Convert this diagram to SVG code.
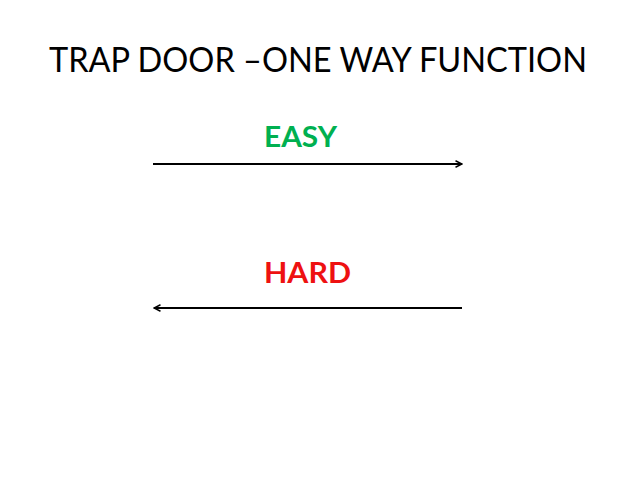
<svg xmlns="http://www.w3.org/2000/svg" width="638" height="479" viewBox="0 0 638 479">
<style>
.title{font-family:Lato,"Open Sans","Liberation Sans",sans-serif;font-size:34px;fill:#000}
.lbl{font-family:Lato,"Open Sans","Liberation Sans",sans-serif;font-size:28px;font-weight:bold}
.conn{stroke:#000;stroke-width:1.8;fill:none}
</style>
<defs>
<marker id="arr" viewBox="0 0 10 10" refX="9" refY="5" markerWidth="4.5" markerHeight="4.5" orient="auto-start-reverse" markerUnits="strokeWidth">
<path d="M1,1 L9,5 L1,9" fill="none" stroke="#000" stroke-width="1.8"/>
</marker>
</defs>
<rect width="638" height="479" fill="#fff"/>
<g id="title"><text class="title" x="49" y="72" textLength="538" lengthAdjust="spacingAndGlyphs">TRAP DOOR –ONE WAY FUNCTION</text></g>
<g id="easy"><text class="lbl" x="264" y="147" fill="#00B050" textLength="73" lengthAdjust="spacingAndGlyphs">EASY</text></g>
<g id="hard"><text class="lbl" x="264" y="283" fill="#EE1111" textLength="87" lengthAdjust="spacingAndGlyphs">HARD</text></g>
<g id="connectors">
<line class="conn" x1="153" y1="164" x2="462" y2="164" marker-end="url(#arr)"/>
<line class="conn" x1="462" y1="308" x2="154" y2="308" marker-end="url(#arr)"/>
</g>
</svg>
